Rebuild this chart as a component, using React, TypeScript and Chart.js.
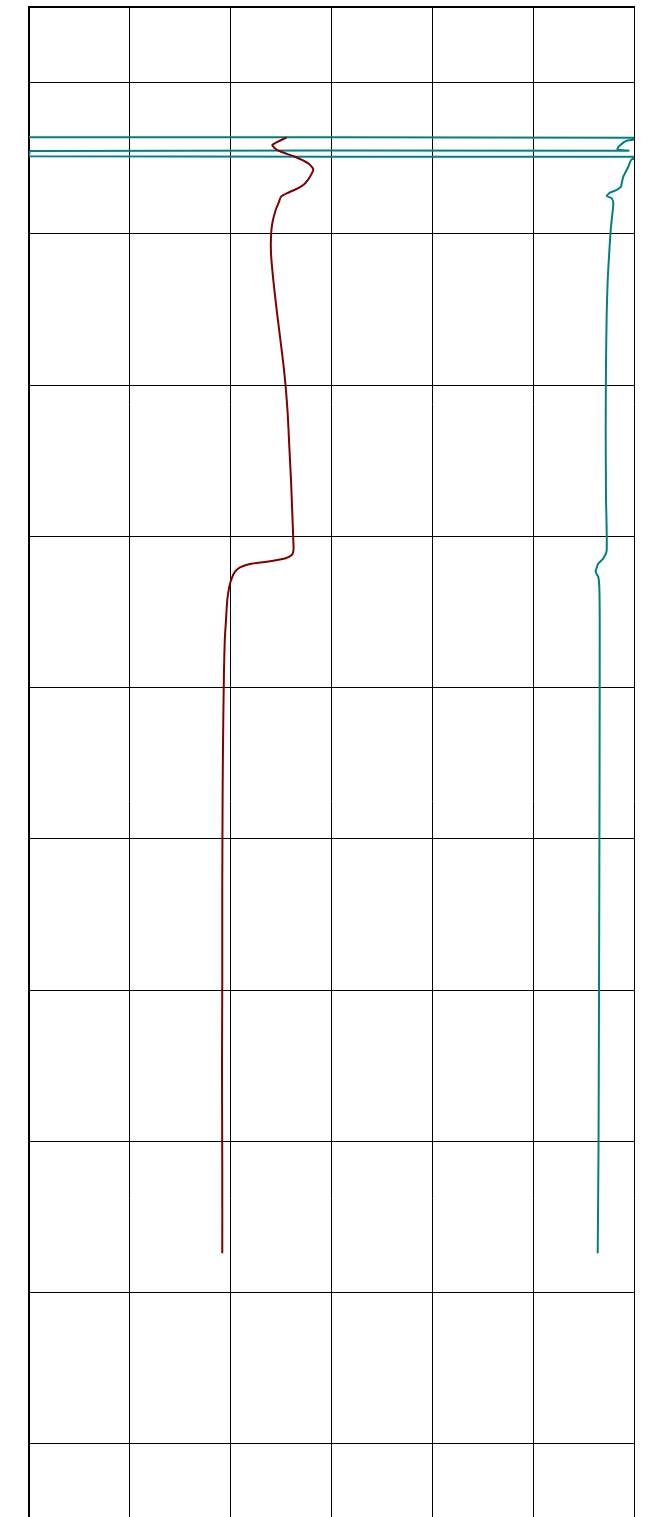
import React, { useEffect, useRef } from "react";
import { Chart, registerables } from "chart.js";

Chart.register(...registerables);

// Depth track: reversed depth axis, two log curves on a shared 0–150 scale.
const DEPTH_MIN = 1450;
const DEPTH_MAX = 2500;
const DEPTH_STEP = 100;
const VALUE_MIN = 0;
const VALUE_MAX = 150;
const VALUE_STEP = 25;

// Maroon curve
const maroonDepth = [
  1536.2, 1541.3, 1545.0, 1549.0, 1553.4, 1557.3, 1562.2, 1566.2, 1568.4, 1571.0,
  1573.2, 1575.4, 1578.8, 1584.2, 1593.0, 1601.9, 1612.9, 1630.5, 1650.4, 1668.0,
  1685.6, 1701.1, 1718.7, 1740.8, 1762.8, 1784.8, 1802.5, 1809.1, 1812.4, 1814.6,
  1816.8, 1818.3, 1820.5, 1823.4, 1827.8, 1833.3, 1842.1, 1855.4, 1868.6, 1888.4,
  1921.5, 1963.2, 2029.3, 2095.4, 2150.8, 2216.9, 2274.0,
];
const maroonValue = [
  63.89, 60.32, 61.81, 65.95, 69.25, 70.49, 69.67, 68.6, 67.61, 65.78,
  63.89, 62.48, 61.98, 61.16, 60.32, 60.0, 60.0, 60.57, 61.41, 62.23,
  63.05, 63.64, 64.14, 64.54, 64.96, 65.28, 65.53, 65.58, 65.13, 63.47,
  58.93, 54.79, 52.31, 51.07, 50.26, 49.66, 49.16, 48.84, 48.54, 48.35,
  48.17, 48.02, 47.92, 47.92, 47.85, 47.92, 47.92,
];

// Teal curve (values past the track edges are clipped at the border)
const tealDepth = [
  1536.2, 1536.4, 1538.4, 1541.9, 1544.1, 1545.0, 1545.2, 1548.7, 1549.1, 1550.7,
  1555.6, 1562.2, 1566.6, 1568.8, 1571.0, 1572.8, 1575.0, 1576.5, 1579.8, 1590.9,
  1597.5, 1615.1, 1630.5, 1652.6, 1685.6, 1729.7, 1773.8, 1809.1, 1814.6, 1818.0,
  1823.4, 1826.9, 1833.5, 1855.4, 1974.4, 2106.7, 2205.9, 2274.0,
];
const tealValue = [
  -3.0, 152.7, 148.19, 146.35, 145.91, 148.59, 0.37, -0.12, 152.7, 149.43,
  148.59, 147.35, 146.95, 146.77, 145.71, 144.05, 143.23, 144.47, 144.87, 144.47,
  144.22, 143.8, 143.48, 143.23, 143.06, 142.98, 143.06, 143.23, 142.39, 141.15,
  140.5, 141.15, 141.4, 141.5, 141.45, 141.32, 141.2, 141.0,
];

const toPoints = (depth: number[], value: number[]) =>
  depth.map((d, i) => ({ x: value[i], y: d }));

export default function App() {
  const canvasRef = useRef<HTMLCanvasElement | null>(null);

  useEffect(() => {
    const canvas = canvasRef.current;
    if (!canvas) return;
    const chart = new Chart(canvas, {
      type: "scatter",
      data: {
        datasets: [
          {
            label: "Maroon",
            data: toPoints(maroonDepth, maroonValue),
            showLine: true,
            borderColor: "#800000",
            backgroundColor: "#800000",
            borderWidth: 2,
            pointRadius: 0,
            tension: 0.2,
          },
          {
            label: "Teal",
            data: toPoints(tealDepth, tealValue),
            showLine: true,
            borderColor: "#008080",
            backgroundColor: "#008080",
            borderWidth: 2,
            pointRadius: 0,
            tension: 0.2,
          },
        ],
      },
      options: {
        animation: false,
        responsive: false,
        maintainAspectRatio: false,
        layout: { padding: { left: 29, top: 7, right: 16, bottom: 5 } },
        plugins: {
          legend: { display: false },
          tooltip: { enabled: false },
        },
        scales: {
          x: {
            type: "linear",
            position: "top",
            min: VALUE_MIN,
            max: VALUE_MAX,
            ticks: { display: false, stepSize: VALUE_STEP },
            grid: { color: "#000", lineWidth: 1, drawTicks: false },
            border: { display: true, color: "#000", width: 2 },
          },
          y: {
            type: "linear",
            reverse: true,
            min: DEPTH_MIN,
            max: DEPTH_MAX,
            ticks: { display: false, stepSize: DEPTH_STEP },
            grid: { color: "#000", lineWidth: 1, drawTicks: false },
            border: { display: true, color: "#000", width: 2 },
          },
        },
      },
    });
    return () => chart.destroy();
  }, []);

  return (
    <div
      style={{
        position: "absolute",
        left: 0,
        top: 0,
        width: 650,
        height: 1517,
        overflow: "hidden",
        background: "#fff",
      }}
    >
      <canvas ref={canvasRef} width={650} height={1600} style={{ display: "block" }} />
    </div>
  );
}
